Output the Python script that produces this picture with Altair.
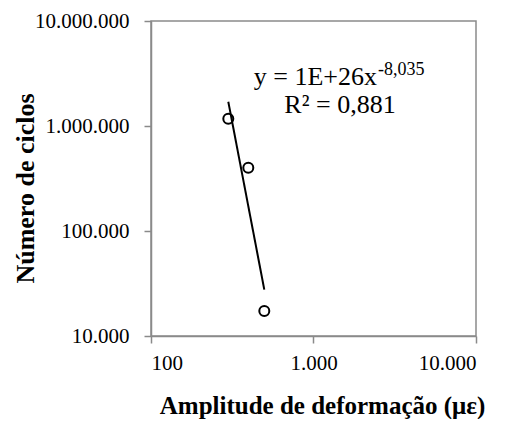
import altair as alt
import pandas as pd

amplitude = [299, 397, 498]
ciclos = [1170000, 401000, 17300]
x_ticks = [100, 1000, 10000]
y_ticks = [10000, 100000, 1000000, 10000000]
eq_main = "y = 1E+26x"
eq_sup = "-8,035"
eq_r2 = "R² = 0,881"

df = pd.DataFrame({"amp": amplitude, "n": ciclos})

FONT = "Liberation Serif"
GRAY = "#8a8a8a"
W, H = 325, 315

label_expr = "replace(replace(format(datum.value, ','), ',', '.'), ',', '.')"

x_enc = alt.X(
    "amp:Q",
    scale=alt.Scale(type="log", domain=[100, 10000], nice=False),
    axis=alt.Axis(
        values=x_ticks, labelExpr=label_expr, grid=False,
        title="Amplitude de deformação (με)",
        titleX=171, titleY=77, titleAlign="center", titleBaseline="alphabetic",
        titleFontSize=25,
    ),
)
y_enc = alt.Y(
    "n:Q",
    scale=alt.Scale(type="log", domain=[10000, 10000000], nice=False),
    axis=alt.Axis(
        values=y_ticks, labelExpr=label_expr, grid=False,
        title="Número de ciclos",
        titleX=-126, titleY=167, titleAlign="center", titleBaseline="middle",
        titleAngle=270,
    ),
)

base = alt.Chart(df)

points = base.mark_point(
    shape="circle", filled=False, stroke="black", strokeWidth=2, size=100, opacity=1
).encode(x=x_enc, y=y_enc)

trend = base.transform_regression(
    "amp", "n", method="pow"
).mark_line(color="black", strokeWidth=2).encode(x="amp:Q", y="n:Q")

txt_main = alt.Chart(pd.DataFrame({"t": [eq_main]})).mark_text(
    font=FONT, fontSize=26, align="right", baseline="alphabetic", color="black"
).encode(text="t:N", x=alt.value(226), y=alt.value(64))

txt_sup = alt.Chart(pd.DataFrame({"t": [eq_sup]})).mark_text(
    font=FONT, fontSize=18, align="left", baseline="alphabetic", color="black"
).encode(text="t:N", x=alt.value(227), y=alt.value(54))

txt_r2 = alt.Chart(pd.DataFrame({"t": [eq_r2]})).mark_text(
    font=FONT, fontSize=26, align="center", baseline="alphabetic", color="black"
).encode(text="t:N", x=alt.value(189), y=alt.value(92))

chart = alt.layer(trend, points, txt_main, txt_sup, txt_r2).properties(
    width=W, height=H,
    autosize=alt.AutoSizeParams(type="none"),
    padding={"left": 143, "top": 13, "right": 23, "bottom": 83},
).configure_view(
    stroke=GRAY, strokeWidth=1.5
).configure_axis(
    labelFont=FONT, labelFontSize=21, labelColor="black",
    titleFont=FONT, titleFontSize=26, titleFontWeight="bold", titleColor="black",
    domainColor=GRAY, domainWidth=1.5, tickColor=GRAY, tickWidth=1.5, tickSize=7,
).configure_axisY(
    labelPadding=15
).configure_axisX(
    labelPadding=9
)

chart.save("out.html", embed_options={"renderer": "svg", "actions": False})
